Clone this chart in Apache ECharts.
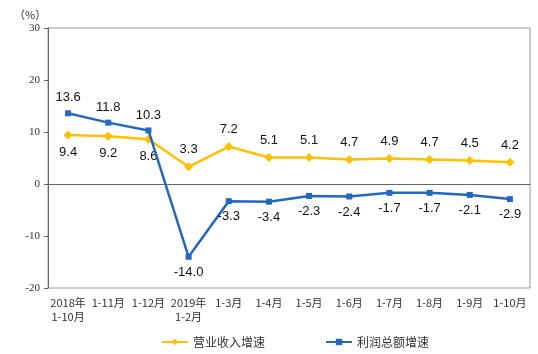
<!DOCTYPE html>
<html>
<head>
<meta charset="utf-8">
<script src="https://cdn.jsdelivr.net/npm/echarts@6/dist/echarts.min.js"></script>
<style>
  html, body { margin: 0; padding: 0; background: #fff; }
  #chart { width: 538px; height: 354px; }
</style>
</head>
<body>
<div id="chart"></div>
<script>
var months = ["2018年\n1-10月", "1-11月", "1-12月", "2019年\n1-2月", "1-3月", "1-4月",
  "1-5月", "1-6月", "1-7月", "1-8月", "1-9月", "1-10月"];
var revenueGrowth = [9.4, 9.2, 8.6, 3.3, 7.2, 5.1, 5.1, 4.7, 4.9, 4.7, 4.5, 4.2];
var profitGrowth = [13.6, 11.8, 10.3, -14.0, -3.3, -3.4, -2.3, -2.4, -1.7, -1.7, -2.1, -2.9];
var yTicks = [-20, -10, 0, 10, 20, 30];

var cjk = "'Noto Sans CJK SC', sans-serif";
var yellow = "#FFC000";
var blue = "#2468BE";

// first three points: blue label above, yellow label below; afterwards swapped
function withLabels(values, firstPos, restPos) {
  return values.map(function (v, i) {
    return { value: v, label: { position: i < 3 ? firstPos : restPos } };
  });
}

var chart = echarts.init(document.getElementById("chart"));
chart.setOption({
  animation: false,
  title: {
    text: "（%）",
    left: 9,
    top: 4,
    textStyle: { fontSize: 11, fontWeight: "normal", color: "#333", fontFamily: cjk },
  },
  grid: {
    left: 48, right: 8, top: 28, bottom: 66,
    show: true, borderColor: "#999", borderWidth: 1,
  },
  legend: {
    left: 156,
    bottom: 1,
    itemWidth: 26,
    itemHeight: 8,
    itemGap: 60,
    textStyle: { fontSize: 12, color: "#333", fontFamily: cjk },
    data: ["营业收入增速", "利润总额增速"],
  },
  xAxis: [
    {
      type: "category",
      data: months,
      axisLine: { onZero: true, lineStyle: { color: "#666" } },
      axisTick: { inside: true, length: 3, lineStyle: { color: "#666" } },
      axisLabel: { show: false },
    },
    {
      type: "category",
      data: months,
      position: "bottom",
      axisLine: { show: false, onZero: false },
      axisTick: { show: false },
      axisLabel: {
        interval: 0, fontSize: 11, color: "#333", fontFamily: cjk, lineHeight: 14, margin: 8,
      },
    },
  ],
  yAxis: {
    type: "value",
    min: yTicks[0],
    max: yTicks[yTicks.length - 1],
    interval: 10,
    splitLine: { show: false },
    axisLine: { show: true, lineStyle: { color: "#666" } },
    axisTick: { show: true, length: 4, lineStyle: { color: "#666" } },
    axisLabel: { fontSize: 11, color: "#333", fontFamily: "'Liberation Serif', serif", margin: 8 },
  },
  series: [
    {
      name: "营业收入增速",
      type: "line",
      data: withLabels(revenueGrowth, "bottom", "top"),
      symbol: "diamond",
      symbolSize: 9,
      lineStyle: { color: yellow, width: 2.5 },
      itemStyle: { color: yellow },
      label: {
        show: true, distance: 6, fontSize: 13, color: "#111",
        fontFamily: "'Liberation Sans', Arial, sans-serif",
        formatter: function (p) { return p.value.toFixed(1); },
      },
      z: 2,
    },
    {
      name: "利润总额增速",
      type: "line",
      data: withLabels(profitGrowth, "top", "bottom"),
      symbol: "rect",
      symbolSize: 6,
      lineStyle: { color: blue, width: 2.5 },
      itemStyle: { color: blue },
      label: {
        show: true, distance: 6, fontSize: 13, color: "#111",
        fontFamily: "'Liberation Sans', Arial, sans-serif",
        formatter: function (p) { return p.value.toFixed(1); },
      },
      z: 3,
    },
  ],
});
</script>
</body>
</html>
